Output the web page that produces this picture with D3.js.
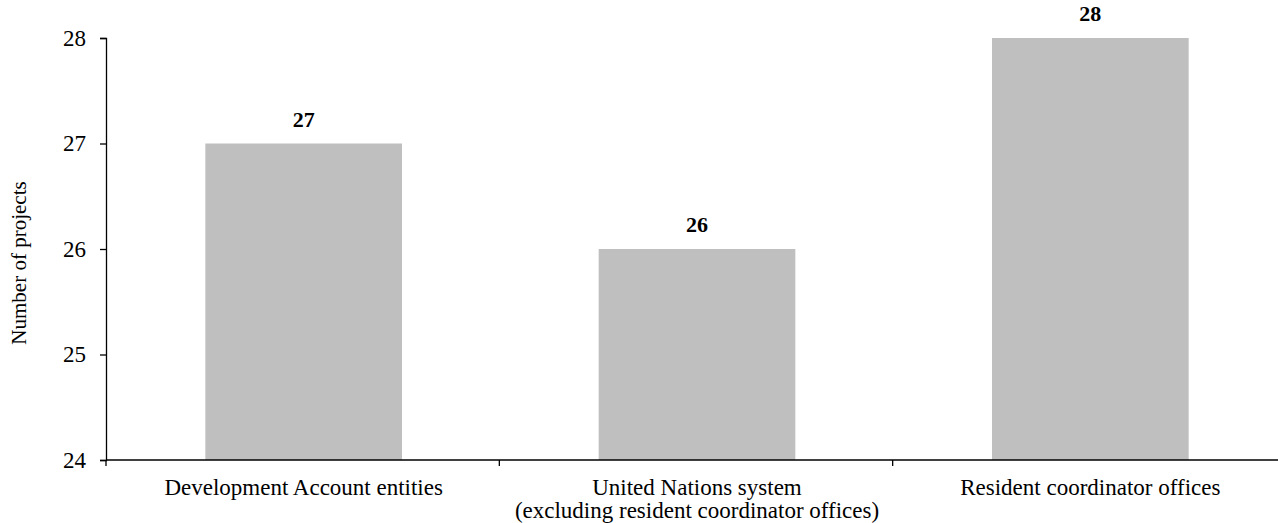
<!DOCTYPE html>
<html>
<head>
<meta charset="utf-8">
<script src="https://cdn.jsdelivr.net/npm/d3@7"></script>
<style>
  html, body { margin: 0; padding: 0; background: #fff; }
  svg text { font-family: "Liberation Serif", "Times New Roman", serif; fill: #000; }
</style>
</head>
<body>
<svg id="chart" width="1278" height="523"></svg>
<script>
// Project counts by implementing group
const categories = [
  ["Development Account entities"],
  ["United Nations system", "(excluding resident coordinator offices)"],
  ["Resident coordinator offices"]
];
const values = [27, 26, 28];
const yTicks = [24, 25, 26, 27, 28];
const yTitle = "Number of projects";

const svg = d3.select("#chart");
const plotLeft = 106, plotRight = 1286, plotTop = 38, plotBottom = 460;

const keys = categories.map((c, i) => i);
const x = d3.scaleBand().domain(keys).range([plotLeft, plotRight])
  .paddingInner(0.5).paddingOuter(0.25);
const y = d3.scaleLinear().domain([24, 28]).range([plotBottom, plotTop]);

// bars
svg.append("g").selectAll("rect").data(values).join("rect")
  .attr("x", (d, i) => x(i) + 1)
  .attr("width", x.bandwidth())
  .attr("y", d => y(d))
  .attr("height", d => y(24) - y(d))
  .attr("fill", "#bfbfbf");

// value labels
svg.append("g").selectAll("text").data(values).join("text")
  .attr("x", (d, i) => x(i) + 1 + x.bandwidth() / 2)
  .attr("y", d => y(d) - 17)
  .attr("text-anchor", "middle")
  .attr("font-weight", "bold")
  .attr("font-size", 22)
  .text(d => d);

// y axis
const yAxis = d3.axisLeft(y).tickValues(yTicks).tickSize(6).tickPadding(14)
  .tickFormat(d3.format("d"));
const gy = svg.append("g").attr("transform", `translate(${plotLeft},0)`).call(yAxis);
gy.select(".domain").attr("stroke", "#000").attr("stroke-width", 1.3);
gy.selectAll(".tick line").attr("stroke", "#000").attr("stroke-width", 1.3);
gy.selectAll(".tick text").attr("font-size", 23)
  .attr("font-family", "Liberation Serif, Times New Roman, serif");

// x axis: boundary ticks between categories
const step = x.step();
const bounds = d3.range(keys.length + 1).map(i => plotLeft + i * step);
const gx = svg.append("g");
gx.append("line")
  .attr("x1", plotLeft).attr("x2", 1278)
  .attr("y1", plotBottom).attr("y2", plotBottom)
  .attr("stroke", "#000").attr("stroke-width", 1.3);
gx.selectAll("line.tk").data(bounds).join("line").attr("class", "tk")
  .attr("x1", d => d).attr("x2", d => d)
  .attr("y1", plotBottom).attr("y2", plotBottom + 6)
  .attr("stroke", "#000").attr("stroke-width", 1.3);

// category labels
const labels = svg.append("g").selectAll("text").data(categories).join("text")
  .attr("x", (d, i) => x(i) + 1 + x.bandwidth() / 2)
  .attr("y", plotBottom + 35)
  .attr("text-anchor", "middle")
  .attr("font-size", 23);
labels.selectAll("tspan").data(d => d).join("tspan")
  .attr("x", function() { return this.parentNode.getAttribute("x"); })
  .attr("dy", (d, j) => j === 0 ? 0 : 23)
  .text(d => d);

// y axis title
svg.append("text")
  .attr("transform", `translate(26,${(plotTop + plotBottom) / 2 + 14}) rotate(-90)`)
  .attr("text-anchor", "middle")
  .attr("font-size", 21)
  .text(yTitle);
</script>
</body>
</html>
